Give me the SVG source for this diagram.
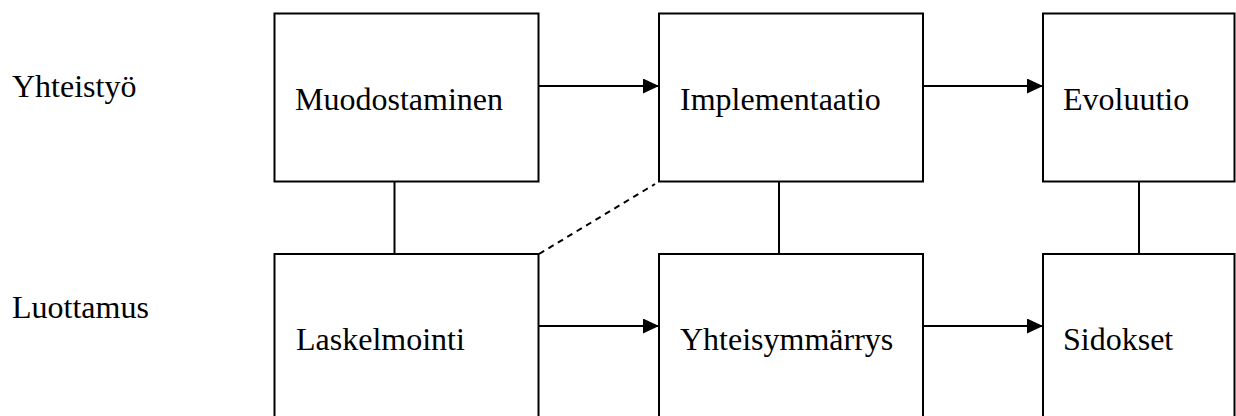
<svg xmlns="http://www.w3.org/2000/svg" width="1236" height="416" viewBox="0 0 1236 416">
  <style>
    .box { fill: #ffffff; stroke: #000000; stroke-width: 2; }
    .lbl { font-family: 'Liberation Serif', Tinos, 'Times New Roman', Times, 'DejaVu Serif', serif; font-size: 32px; fill: #000000; }
    .link { stroke: #000000; stroke-width: 2; fill: none; }
    .dash { stroke-dasharray: 6 5; }
  </style>
  <defs>
    <marker id="arrow" markerUnits="userSpaceOnUse" markerWidth="17" markerHeight="16" refX="16" refY="7.5" orient="auto">
      <path d="M0,0 L16,7.5 L0,15 z" fill="#000000"/>
    </marker>
  </defs>
  <rect width="1236" height="416" fill="#ffffff"/>

  <!-- row labels -->
  <g id="row-labels">
    <text class="lbl" font-family="Liberation Serif, serif" x="12" y="97">Yhteistyö</text>
    <text class="lbl" font-family="Liberation Serif, serif" x="12" y="318">Luottamus</text>
  </g>

  <!-- connectors -->
  <g id="connectors">
    <line class="link" x1="539" y1="86" x2="659" y2="86" marker-end="url(#arrow)"/>
    <line class="link" x1="923" y1="86" x2="1043" y2="86" marker-end="url(#arrow)"/>
    <line class="link" x1="539" y1="326" x2="659" y2="326" marker-end="url(#arrow)"/>
    <line class="link" x1="923" y1="326" x2="1043" y2="326" marker-end="url(#arrow)"/>
    <line class="link" x1="394.5" y1="182" x2="394.5" y2="254"/>
    <line class="link" x1="779" y1="182" x2="779" y2="254"/>
    <line class="link" x1="1139" y1="182" x2="1139" y2="254"/>
    <line class="link dash" x1="539" y1="254" x2="655" y2="184"/>
  </g>

  <!-- top row -->
  <g id="muodostaminen">
    <rect class="box" x="274.5" y="13.5" width="264" height="168"/>
    <text class="lbl" x="295" y="110">Muodostaminen</text>
  </g>
  <g id="implementaatio">
    <rect class="box" x="659" y="13.5" width="264" height="168"/>
    <text class="lbl" x="680" y="110">Implementaatio</text>
  </g>
  <g id="evoluutio">
    <rect class="box" x="1043" y="13.5" width="191.5" height="168"/>
    <text class="lbl" x="1063" y="110">Evoluutio</text>
  </g>

  <!-- bottom row -->
  <g id="laskelmointi">
    <rect class="box" x="274.5" y="254" width="264" height="180"/>
    <text class="lbl" x="296" y="350">Laskelmointi</text>
  </g>
  <g id="yhteisymmarrys">
    <rect class="box" x="659" y="254" width="264" height="180"/>
    <text class="lbl" x="680" y="350">Yhteisymmärrys</text>
  </g>
  <g id="sidokset">
    <rect class="box" x="1043" y="254" width="191.5" height="180"/>
    <text class="lbl" x="1063" y="350">Sidokset</text>
  </g>
</svg>
